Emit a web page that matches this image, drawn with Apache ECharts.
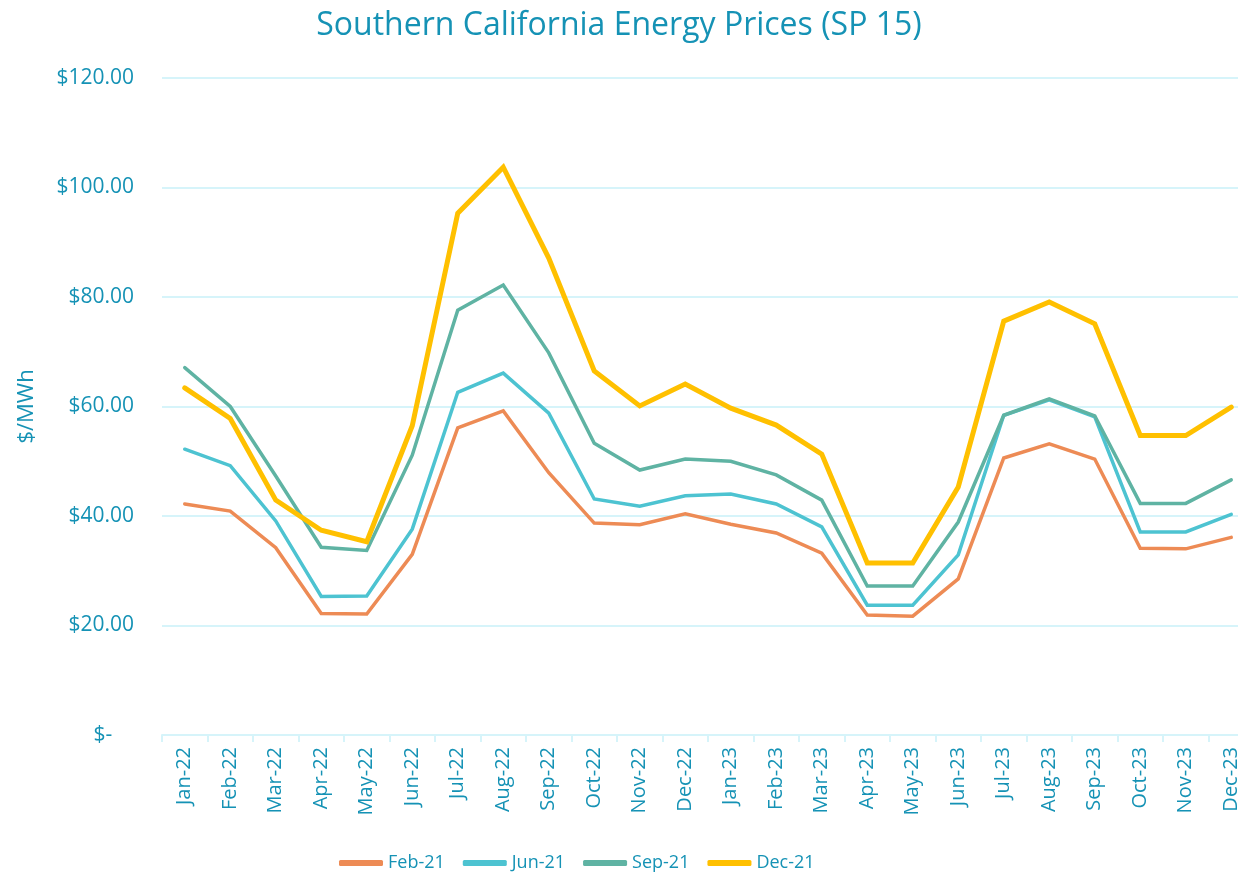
<!DOCTYPE html>
<html><head><meta charset="utf-8">
<script src="https://cdn.jsdelivr.net/npm/echarts@6/dist/echarts.min.js"></script>
<style>html,body{margin:0;padding:0;background:#fff}#c{width:1238px;height:875px}</style>
</head><body><div id="c"></div>
<script>
const categories = ['Jan-22','Feb-22','Mar-22','Apr-22','May-22','Jun-22','Jul-22','Aug-22','Sep-22','Oct-22','Nov-22','Dec-22','Jan-23','Feb-23','Mar-23','Apr-23','May-23','Jun-23','Jul-23','Aug-23','Sep-23','Oct-23','Nov-23','Dec-23'];
const feb21 = [42.2,40.9,34.2,22.2,22.1,33.0,56.1,59.2,47.9,38.7,38.4,40.4,38.5,36.9,33.2,21.9,21.7,28.5,50.6,53.2,50.4,34.1,34.0,36.1];
const jun21 = [52.2,49.2,39.1,25.3,25.4,37.6,62.6,66.1,58.8,43.1,41.8,43.7,44.0,42.2,38.0,23.7,23.7,32.9,58.4,61.2,58.1,37.1,37.1,40.3];
const sep21 = [67.1,60.0,47.3,34.3,33.7,51.1,77.6,82.2,69.8,53.3,48.4,50.4,50.0,47.5,42.9,27.2,27.2,38.9,58.4,61.4,58.3,42.3,42.3,46.6];
const dec21 = [63.4,57.8,42.9,37.4,35.3,56.5,95.3,103.7,87.1,66.5,60.1,64.1,59.7,56.6,51.3,31.4,31.4,45.3,75.6,79.1,75.1,54.7,54.7,59.9];
const yTicks = [0,20,40,60,80,100,120];

const txt = '#1592B5';
const font = 'Open Sans';
const chart = echarts.init(document.getElementById('c'));
function mk(name, data, color, width){
  return {name, type:'line', data, symbol:'none', smooth:false,
    lineStyle:{color, width, cap:'round', join:'miter'}, itemStyle:{color}};
}
chart.setOption({
  animation:false,
  title:{text:'Southern California Energy Prices (SP 15)', left:'center', top:5,
    textStyle:{color:txt, fontFamily:font, fontSize:32, fontWeight:'normal'}},
  grid:{left:162, width:1092, top:78, height:657, containLabel:false, outerBoundsMode:'none'},
  legend:{bottom:-2, left:334, itemWidth:44, itemHeight:6, itemGap:18,
    icon:'roundRect',
    textStyle:{color:txt, fontFamily:font, fontSize:18}},
  xAxis:{type:'category', data:categories, boundaryGap:true,
    axisLine:{lineStyle:{color:'#D6F4FA', width:2}},
    axisTick:{show:true, length:7, lineStyle:{color:'#D6F4FA', width:2}},
    axisLabel:{rotate:90, color:txt, fontFamily:font, fontSize:20, margin:12, interval:0}},
  yAxis:{type:'value', min:0, max:120, interval:20,
    name:'$/MWh', nameLocation:'middle', nameGap:124, nameRotate:90,
    nameTextStyle:{color:txt, fontFamily:font, fontSize:22},
    axisLine:{show:false}, axisTick:{show:false},
    splitLine:{lineStyle:{color:'#D6F4FA', width:2}},
    axisLabel:{color:txt, fontFamily:font, fontSize:21, margin:28,
      formatter:v => yTicks.includes(v) ? (v===0 ? '$-    ' : '$'+v.toFixed(2)) : ''}},
  series:[
    mk('Feb-21', feb21, '#ED8B55', 3.5),
    mk('Jun-21', jun21, '#4DC3D1', 3.5),
    mk('Sep-21', sep21, '#5FB3A3', 3.5),
    mk('Dec-21', dec21, '#FFC000', 5)
  ]
});
</script></body></html>
